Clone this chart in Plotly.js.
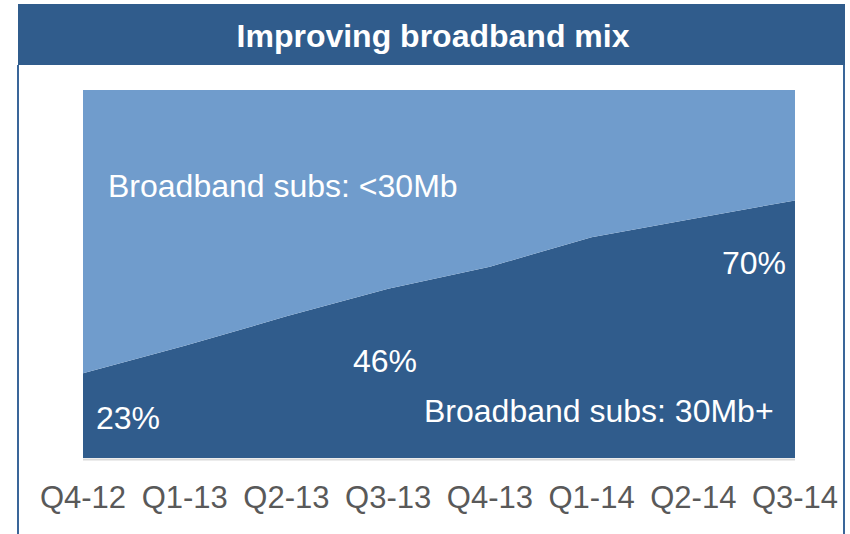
<!DOCTYPE html>
<html>
<head>
<meta charset="utf-8">
<script src="https://cdn.plot.ly/plotly-3.0.1.min.js"></script>
<style>
  html, body { margin: 0; padding: 0; background: #ffffff; }
  #chart { width: 850px; height: 534px; }
</style>
</head>
<body>
<div id="chart"></div>
<script>
// ---- Data ----
const quarters = ["Q4-12", "Q1-13", "Q2-13", "Q3-13", "Q4-13", "Q1-14", "Q2-14", "Q3-14"];
const subsFast = [23, 30.5, 38.5, 46, 52, 60, 65, 70];          // Broadband subs: 30Mb+ (%)
const subsSlow = [77, 69.5, 61.5, 54, 48, 40, 35, 30];          // Broadband subs: <30Mb (%)
const chartTitle = "Improving broadband mix";
const labelSlow = "Broadband subs: <30Mb";
const labelFast = "Broadband subs: 30Mb+";
const pctLabels = ["23%", "46%", "70%"];

// ---- Styling ----
const DARK = "#305C8C";
const LIGHT = "#709CCC";
const FONT = "Liberation Sans, Arial, sans-serif";

// pixel helpers (plot area: x 83..795, y 90..458)
const L = 83, R = 795, T = 90, B = 458;
const px = x => (x - L) / (R - L);
const py = y => (B - y) / (B - T);

const traces = [
  {
    x: quarters, y: subsFast, name: labelFast, type: "scatter", mode: "none",
    stackgroup: "one", fillcolor: DARK, line: { width: 0 }, hoverinfo: "skip"
  },
  {
    x: quarters, y: subsSlow, name: labelSlow, type: "scatter", mode: "none",
    stackgroup: "one", fillcolor: LIGHT, line: { width: 0 }, hoverinfo: "skip"
  }
];

const whiteText = (text, x, y) => ({
  text: text, xref: "paper", yref: "paper", x: px(x), y: py(y),
  xanchor: "center", yanchor: "middle", showarrow: false,
  font: { family: FONT, size: 32, color: "#ffffff" }
});

const layout = {
  width: 850, height: 534,
  margin: { l: L, r: 850 - R, t: T, b: 534 - B, pad: 0 },
  paper_bgcolor: "#ffffff",
  plot_bgcolor: "#ffffff",
  showlegend: false,
  title: {
    text: "<b>" + chartTitle + "</b>",
    xref: "container", yref: "container",
    x: 433 / 850, y: 1 - 36 / 534, xanchor: "center", yanchor: "middle",
    font: { family: FONT, size: 32, color: "#ffffff" }
  },
  xaxis: {
    type: "category", range: [0, 7], showgrid: false, zeroline: false, showline: false,
    ticks: "outside", ticklen: 12, tickcolor: "rgba(0,0,0,0)",
    tickfont: { family: FONT, size: 31, color: "#595959" }, fixedrange: true
  },
  yaxis: {
    range: [0, 100], visible: false, showgrid: false, zeroline: false, fixedrange: true
  },
  shapes: [
    // header band
    { type: "rect", xref: "paper", yref: "paper", layer: "below",
      x0: px(18), x1: px(845), y0: py(65), y1: py(4),
      fillcolor: DARK, line: { width: 0 } },
    // frame sides
    { type: "line", xref: "paper", yref: "paper", x0: px(18), x1: px(18), y0: py(65), y1: py(534),
      line: { color: "#3A6699", width: 2 } },
    { type: "line", xref: "paper", yref: "paper", x0: px(844), x1: px(844), y0: py(65), y1: py(534),
      line: { color: "#3A6699", width: 2 } },
    // soft shadow under plot
    { type: "line", xref: "paper", yref: "paper", x0: 0, x1: 1, y0: py(459.5), y1: py(459.5),
      line: { color: "#D9D9D9", width: 2 } }
  ],
  annotations: [
    whiteText(labelSlow, 283, 186),
    whiteText(pctLabels[0], 128, 418),
    whiteText(pctLabels[1], 385, 361),
    whiteText(pctLabels[2], 754, 263),
    whiteText(labelFast, 599, 411)
  ]
};

Plotly.newPlot("chart", traces, layout, { displayModeBar: false, staticPlot: true });
</script>
</body>
</html>
